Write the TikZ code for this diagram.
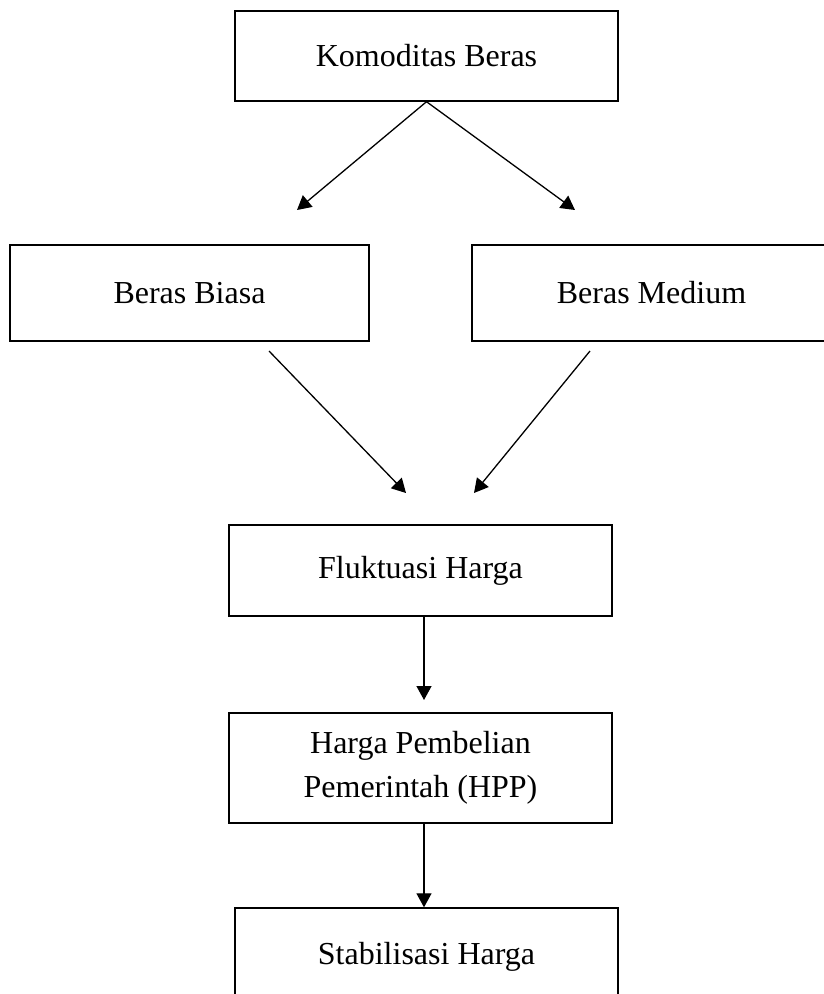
\documentclass[tikz,border=0pt]{standalone}
\usepackage{fontspec}
\setmainfont{Liberation Serif}
\usetikzlibrary{arrows.meta}
\tikzset{
  box/.style = {draw, rectangle, align=center, inner sep=0pt,
    font=\fontsize{32}{44}\selectfont, line width=1.4pt},
  wide/.style = {box, minimum width=383pt},
  side/.style = {box, minimum width=359pt, minimum height=96pt},
}

\begin{document}
\begin{tikzpicture}[x=1pt,y=-1pt,line width=1.3pt,
  >={Triangle[length=14pt,width=15pt]}]
\useasboundingbox (0,0) rectangle (823,994);
% boxes
\node [wide, minimum height=90pt] (kom) at (426.5,56) {Komoditas Beras};
\node [side] (biasa) at (189.5,293) {Beras Biasa};
\node [side] (medium) at (651.5,293) {Beras Medium};
\node [wide, minimum height=91pt] (fluk) at (420.5,570.5) {Fluktuasi Harga};
\node [wide, minimum height=110pt] (hpp) at (420.5,768) {Harga Pembelian\\Pemerintah (HPP)};
\node [wide, minimum height=98pt] (stab) at (426.5,957) {Stabilisasi Harga};
% free ends of the arrows
\coordinate (kl) at (297,210);
\coordinate (kr) at (575,210);
\coordinate (bs) at (269,351);
\coordinate (bt) at (406,493);
\coordinate (ms) at (590,351);
\coordinate (mt) at (474,493);
\coordinate (ft) at (424,700);
% arrows
\draw [->] (kom.south) -- (kl);
\draw [->] (kom.south) -- (kr);
\draw [->] (bs) -- (bt);
\draw [->] (ms) -- (mt);
\draw [->] (fluk.south -| ft) -- (ft);
\draw [->] (hpp.south -| ft) -- (stab.north -| ft);
\end{tikzpicture}
\end{document}
